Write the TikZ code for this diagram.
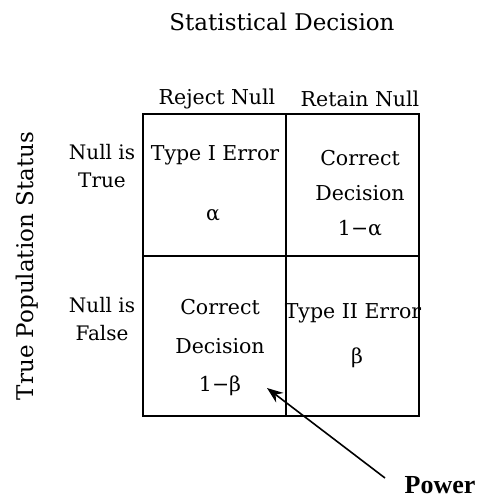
\documentclass[tikz,border=0pt]{standalone}
\usepackage{fontspec}
\setmainfont{DejaVu Serif}
\newfontfamily\powerfont{Liberation Serif}
\usetikzlibrary{arrows.meta}
\tikzset{
  grid line/.style={line width=1.8pt, line cap=rect},
  cell text/.style={font=\fontsize{20.5}{35}\selectfont, align=center, inner sep=0pt},
  low cell text/.style={font=\fontsize{20.5}{38.5}\selectfont, align=center, inner sep=0pt},
  head text/.style={font=\fontsize{20.5}{24}\selectfont, inner sep=0pt},
  row text/.style={font=\fontsize{20}{28}\selectfont, align=center, inner sep=0pt},
  title text/.style={font=\fontsize{23}{26}\selectfont, inner sep=0pt},
  pointer/.style={line width=1.6pt, -{Stealth[length=16pt,width=12pt]}}
}
\begin{document}
\begin{tikzpicture}[x=1pt,y=-1pt]
  \useasboundingbox (0,0) rectangle (477,498);
  % grid corners
  \coordinate (tl) at (143,114);
  \coordinate (tm) at (286,114);
  \coordinate (tr) at (419,114);
  \coordinate (ml) at (143,256);
  \coordinate (mr) at (419,256);
  \coordinate (bl) at (143,416);
  \coordinate (bm) at (286,416);
  \coordinate (br) at (419,416);
  \draw[grid line] (tl) -- (tr) -- (br) -- (bl) -- cycle;
  \draw[grid line] (tm) -- (bm);
  \draw[grid line] (ml) -- (mr);
  % headings
  \node[title text] (title) at (282,22) {Statistical Decision};
  \node[head text] (reject) at (217,99) {Reject Null};
  \node[head text] (retain) at (360,99) {Retain Null};
  \node[title text, rotate=90] (status) at (27,266) {True Population Status};
  \node[row text] (rtrue) at (102,166) {Null is\\True};
  \node[row text] (rfalse) at (102,319) {Null is\\False};
  % cells
  \node[cell text] (typeone) at (215,155) {Type I Error};
  \node[cell text] (alpha) at (213,215) {α};
  \node[cell text] (corrtop) at (360,193) {Correct\\Decision\\1−α};
  \node[low cell text] (corrbot) at (220,348) {Correct\\Decision\\1−β};
  \node[cell text] (typetwo) at (353,313) {Type II Error};
  \node[cell text] (beta) at (357,358) {β};
  % power label and pointer
  \node[font=\powerfont\fontsize{26}{30}\selectfont\bfseries, inner sep=0pt, anchor=base] (power) at (440,493) {Power};
  \coordinate (tip) at (267,388);
  \draw[pointer] (385,478) -- (tip);
\end{tikzpicture}
\end{document}
